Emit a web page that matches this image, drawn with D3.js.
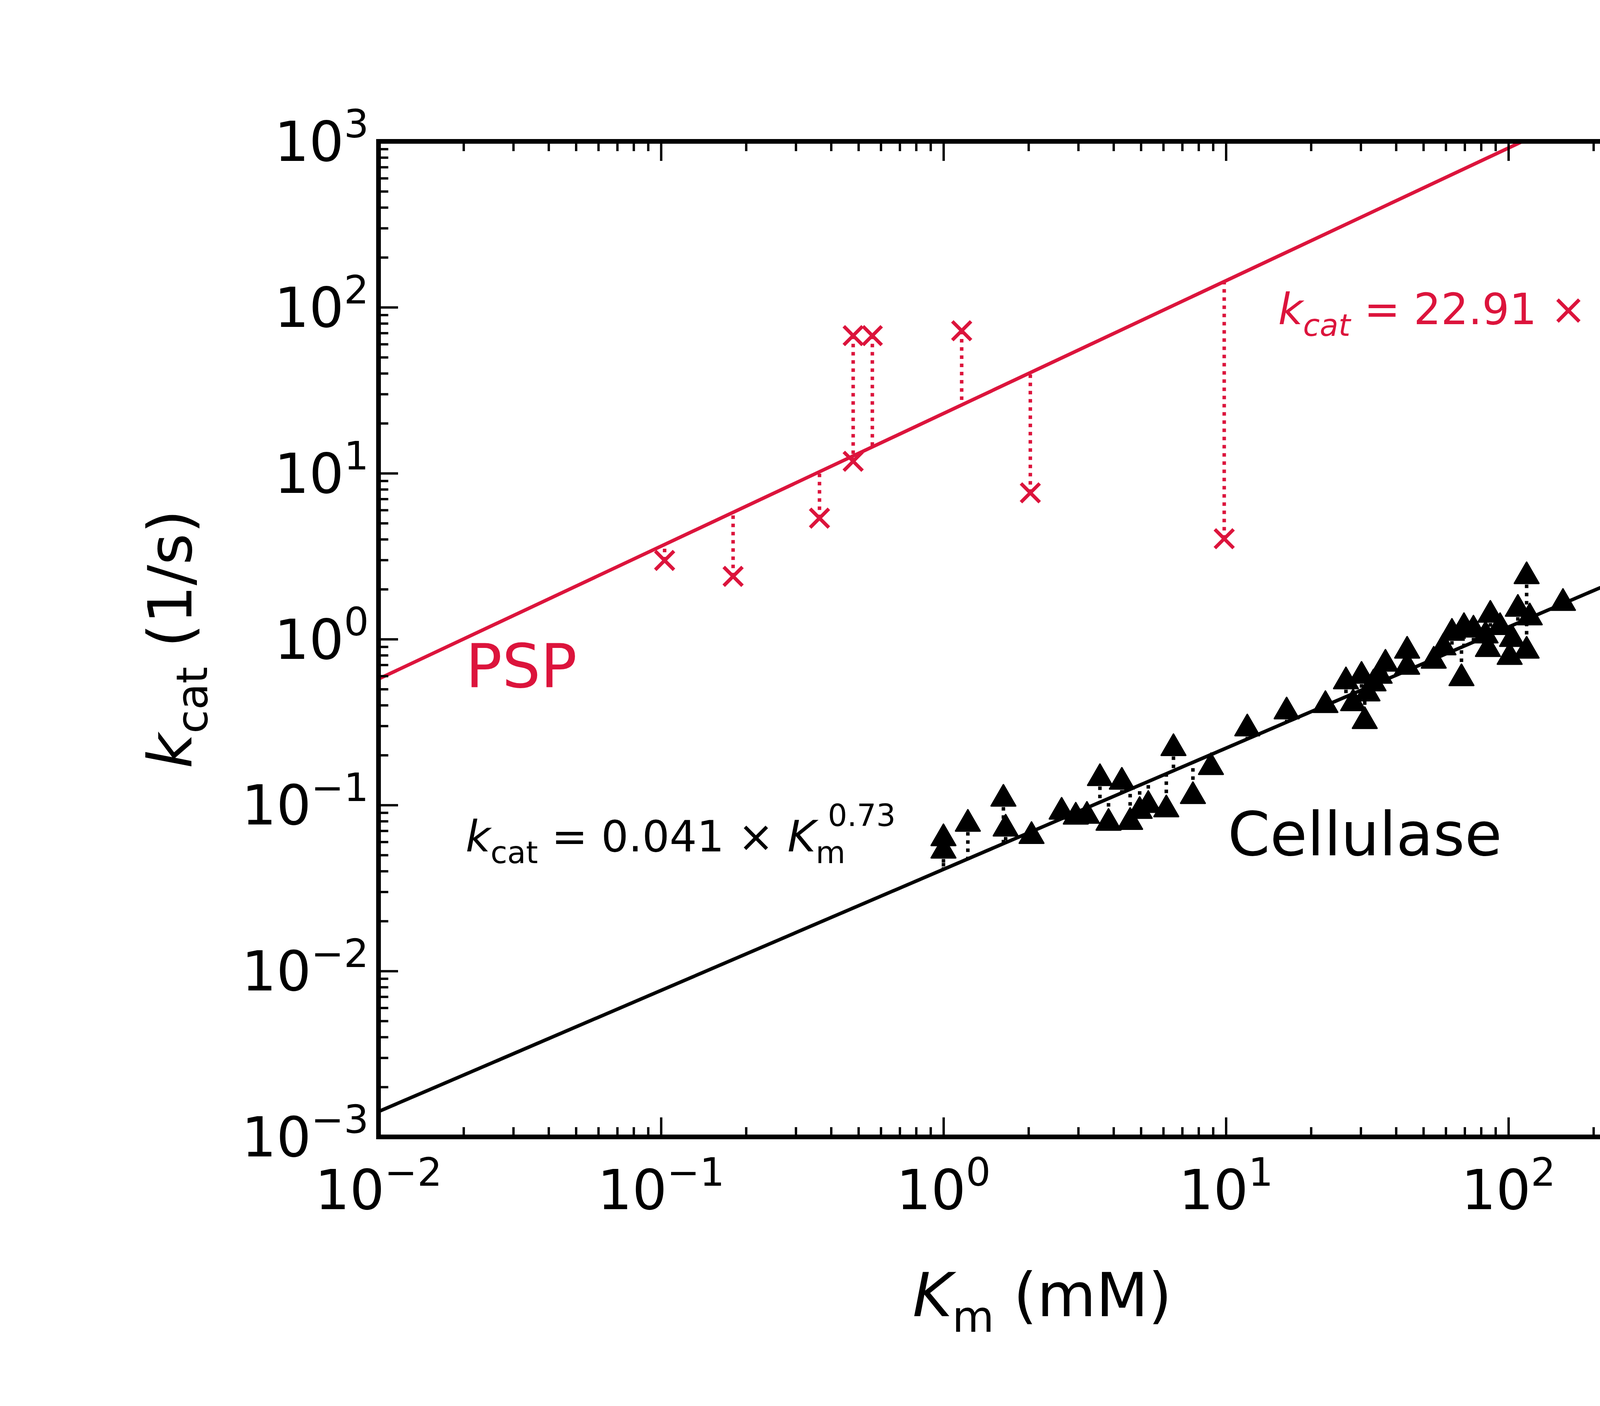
<!DOCTYPE html>
<html><head><meta charset="utf-8">
<script src="https://cdn.jsdelivr.net/npm/d3@7"></script>
<style>body{margin:0;background:#fff}</style>
</head><body>
<div id="chart"></div>
<script>
// PSP data (Km in mM, kcat in 1/s)
const pspKm   = [0.103, 0.18, 0.364, 0.479, 0.479, 0.56, 1.16, 2.03, 9.86];
const pspKcat = [2.98, 2.39, 5.36, 11.8, 67.5, 67.5, 72.2, 7.62, 4.03];
// Cellulase data
const celKm   = [1.0, 1.0, 1.22, 1.63, 1.66, 2.05, 2.62, 2.94, 3.22, 3.58, 3.84, 4.28, 4.58, 4.95, 5.31, 6.15, 6.52, 7.64, 8.85,
                 11.9, 16.4, 22.5, 26.6, 28.2, 30.2, 31.7, 31.0, 33.3, 35.0, 36.7, 43.8, 43.8, 54.4, 58.9, 63.1, 68.2, 69.6,
                 75.2, 83, 84.6, 86.3, 93.4, 101, 103, 108, 116, 116, 119, 156, 351];
const celKcat = [0.063, 0.053, 0.077, 0.109, 0.072, 0.065, 0.091, 0.085, 0.086, 0.145, 0.078, 0.138, 0.079, 0.092, 0.10, 0.094, 0.22, 0.113, 0.169,
                 0.289, 0.366, 0.40, 0.556, 0.41, 0.60, 0.47, 0.32, 0.54, 0.60, 0.71, 0.85, 0.68, 0.74, 0.89, 1.09, 0.58, 1.18,
                 1.14, 1.05, 0.87, 1.40, 1.18, 0.78, 1.0, 1.52, 2.39, 0.85, 1.35, 1.65, 2.56];
const pspFit = {a: 22.91, b: 0.8};
const celFit = {a: 0.041, b: 0.73};
const xDecades = [-2, -1, 0, 1, 2];
const yDecades = [-3, -2, -1, 0, 1, 2, 3];

const W = 4800, H = 3600;
const pL = 969, pR = 4367, pT = 362, pB = 2911;
const red = '#dc143c';
const font = 'DejaVu Sans';

const svg = d3.select('#chart').append('svg').attr('width', W).attr('height', H)
    .style('font-family', font);

const x = d3.scaleLog().domain([0.01, 500]).range([pL, pR]);
const y = d3.scaleLog().domain([0.001, 1000]).range([pB, pT]);

svg.append('clipPath').attr('id', 'clip').append('rect')
    .attr('x', pL).attr('y', pT).attr('width', pR - pL).attr('height', pB - pT);
const plot = svg.append('g').attr('clip-path', 'url(#clip)');

const line = d3.line().x(d => x(d[0])).y(d => y(d[1]));
const fitPts = f => [0.01, 500].map(k => [k, f.a * Math.pow(k, f.b)]);

// residual dotted lines
function residuals(km, kc, f, col) {
    plot.selectAll(null).data(km).enter().append('line')
        .attr('x1', d => x(d)).attr('x2', d => x(d))
        .attr('y1', (d, i) => y(kc[i])).attr('y2', d => y(f.a * Math.pow(d, f.b)))
        .attr('stroke', col).attr('stroke-width', 9).attr('stroke-dasharray', '9,12');
}
residuals(pspKm, pspKcat, pspFit, red);
residuals(celKm, celKcat, celFit, '#000');

plot.append('path').attr('d', line(fitPts(pspFit))).attr('stroke', red).attr('stroke-width', 9).attr('fill', 'none');
plot.append('path').attr('d', line(fitPts(celFit))).attr('stroke', '#000').attr('stroke-width', 9).attr('fill', 'none');

// markers
const tri = d3.symbol().type(d3.symbolTriangle).size(1700);
plot.selectAll(null).data(celKm).enter().append('path')
    .attr('d', tri).attr('fill', '#000').attr('stroke', '#000').attr('stroke-width', 4).attr('stroke-linejoin', 'round')
    .attr('transform', (d, i) => `translate(${x(d)},${y(celKcat[i])})`);
const xs = 24;
pspKm.forEach((d, i) => {
    const cx = x(d), cy = y(pspKcat[i]);
    plot.append('path').attr('d', `M${cx - xs},${cy - xs}L${cx + xs},${cy + xs}M${cx - xs},${cy + xs}L${cx + xs},${cy - xs}`)
        .attr('stroke', red).attr('stroke-width', 9);
});

// axes with inward ticks on all sides
const minor = [];
for (let e = -3; e < 3; e++) for (let m = 2; m < 10; m++) minor.push(m * Math.pow(10, e));
const xMinor = minor.filter(v => v > 0.01 && v < 500);
const yMinor = minor.filter(v => v > 0.001 && v < 1000);
const xMajor = xDecades.map(e => Math.pow(10, e));
const yMajor = yDecades.map(e => Math.pow(10, e));
function axis(gen, scale, major, minr, tr) {
    const g1 = svg.append('g').attr('transform', tr).call(gen(scale).tickValues(major).tickSize(-50).tickFormat(''));
    const g2 = svg.append('g').attr('transform', tr).call(gen(scale).tickValues(minr).tickSize(-25).tickFormat(''));
    [g1, g2].forEach(g => { g.select('.domain').remove(); g.selectAll('line').attr('stroke-width', 6); });
}
axis(d3.axisBottom, x, xMajor, xMinor, `translate(0,${pB})`);
axis(d3.axisTop, x, xMajor, xMinor, `translate(0,${pT})`);
axis(d3.axisLeft, y, yMajor, yMinor, `translate(${pL},0)`);
axis(d3.axisRight, y, yMajor, yMinor, `translate(${pR},0)`);
svg.append('rect').attr('x', pL).attr('y', pT).attr('width', pR - pL).attr('height', pB - pT)
    .attr('fill', 'none').attr('stroke', '#000').attr('stroke-width', 12);

// tick labels
const fmt = e => (e < 0 ? '\u2212' : '') + Math.abs(e);
xDecades.forEach(e => {
    const t = svg.append('text').attr('x', x(Math.pow(10, e))).attr('y', pB + 185)
        .attr('text-anchor', 'middle').attr('font-size', 140);
    t.append('tspan').text('10');
    t.append('tspan').attr('dy', -60).attr('font-size', 100).text(fmt(e));
});
yDecades.forEach(e => {
    const t = svg.append('text').attr('x', pL - 25).attr('y', y(Math.pow(10, e)) + 50)
        .attr('text-anchor', 'end').attr('font-size', 140);
    t.append('tspan').text('10');
    t.append('tspan').attr('dy', -60).attr('font-size', 100).text(fmt(e));
});

// axis titles
const xl = svg.append('text').attr('x', (pL + pR) / 2).attr('y', 3370).attr('text-anchor', 'middle').attr('font-size', 155);
xl.append('tspan').attr('font-style', 'italic').text('K');
xl.append('tspan').attr('dy', 40).attr('font-size', 110).text('m');
xl.append('tspan').attr('dy', -40).text(' (mM)');
const yl = svg.append('text').attr('transform', `translate(490,${(pT + pB) / 2}) rotate(-90)`)
    .attr('text-anchor', 'middle').attr('font-size', 155);
yl.append('tspan').attr('font-style', 'italic').text('k');
yl.append('tspan').attr('dy', 40).attr('font-size', 110).text('cat');
yl.append('tspan').attr('dy', -40).text(' (1/s)');

// annotations
svg.append('text').attr('x', 1192).attr('y', 1760).attr('font-size', 155).attr('fill', red).text('PSP');
svg.append('text').attr('x', 3143).attr('y', 2190).attr('font-size', 155).attr('fill', '#000').text('Cellulase');

const e1 = svg.append('text').attr('x', 3272).attr('y', 830).attr('font-size', 110).attr('fill', red);
e1.append('tspan').attr('font-style', 'italic').text('k');
e1.append('tspan').attr('dy', 30).attr('font-size', 78).attr('font-style', 'italic').text('cat');
e1.append('tspan').attr('dy', -30).text(' = 22.91 \u00d7 ');
e1.append('tspan').attr('font-style', 'italic').text('K');
e1.append('tspan').attr('dy', 30).attr('font-size', 78).text('m');
e1.append('tspan').attr('dx', -45).attr('dy', -95).attr('font-size', 78).text('0.8');

const e2 = svg.append('text').attr('x', 1192).attr('y', 2180).attr('font-size', 110).attr('fill', '#000');
e2.append('tspan').attr('font-style', 'italic').text('k');
e2.append('tspan').attr('dy', 30).attr('font-size', 78).text('cat');
e2.append('tspan').attr('dy', -30).text(' = 0.041 \u00d7 ');
e2.append('tspan').attr('font-style', 'italic').text('K');
e2.append('tspan').attr('dy', 30).attr('font-size', 78).text('m');
e2.append('tspan').attr('dx', -45).attr('dy', -95).attr('font-size', 78).text('0.73');
</script>
</body></html>
